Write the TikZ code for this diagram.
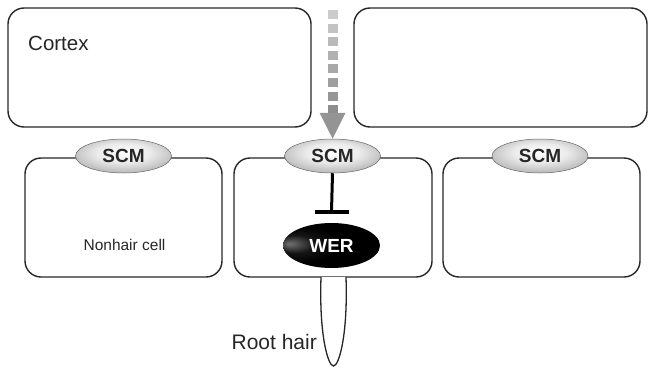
\documentclass[tikz,border=0pt]{standalone}
\usepackage{fontspec}
\setmainfont{Liberation Sans}
\usetikzlibrary{shapes.geometric,calc}
\pgfdeclareradialshading{scmshade}{\pgfpoint{0bp}{6bp}}{%
  color(0bp)=(white); color(14bp)=(white!92!black); color(30bp)=(black!30);
  color(42bp)=(black!52); color(50bp)=(black!75); color(70bp)=(black!80)}
\pgfdeclareradialshading{wershade}{\pgfpoint{-22bp}{2bp}}{%
  color(0bp)=(black!55); color(10bp)=(black!92); color(20bp)=(black); color(70bp)=(black)}
\begin{document}
\begin{tikzpicture}[x=1pt,y=-1pt,
  cell/.style={draw=black!85, line width=1.4pt, rounded corners=16pt, minimum height=119pt, inner sep=0pt},
  scm/.style={ellipse, minimum width=96pt, minimum height=34pt, inner sep=0pt, draw=black!60, line width=0.5pt,
    shading=scmshade, font=\fontsize{19}{19}\selectfont\bfseries, text=black!85},
  wer/.style={ellipse, minimum width=97pt, minimum height=45pt, inner sep=0pt, shading=wershade, text=white,
    font=\fontsize{19}{19}\selectfont\bfseries},
  lbl/.style={inner sep=0pt, text=black!85}
]
\useasboundingbox (0,0) rectangle (653,367);
% cells
\node[cell, minimum width=303pt] (ctxL) at (159.5,67.5) {};
\node[cell, minimum width=293pt] (ctxR) at (500.5,67.5) {};
\node[cell, minimum width=197pt] (cellL) at (123.5,217.5) {};
\node[cell, minimum width=198pt] (cellM) at (333,217.5) {};
\node[cell, minimum width=197pt] (cellR) at (541.5,217.5) {};
% root hair
\coordinate (hairL) at (321,277);
\coordinate (hairR) at (346,277);
\coordinate (hairT) at (333.5,366);
\draw[draw=black!85, line width=1.3pt, fill=white] (hairL) .. controls (319,335) and (328,366) .. (hairT)
  .. controls (339,366) and (348,335) .. (hairR);
% SCM
\node[scm] (scmL) at (123.5,156) {SCM};
\node[scm] (scmM) at (332.5,156) {SCM};
\node[scm] (scmR) at (540,156) {SCM};
% WER
\node[wer] (wer) at (331.5,245.5) {WER};
% signal arrow
\coordinate (sig) at (333,10);
\foreach \i in {0,...,7}{
  \pgfmathsetmacro{\c}{20+\i*3.5}
  \fill[black!\c] ($(sig)+(-5,\i*13.6)$) rectangle ++(10,9);
}
\fill[black!42] ($(scmM.north)+(-13,-26)$) -- ($(scmM.north)+(13,-26)$) -- (scmM.north) -- cycle;
% inhibition
\coordinate (bar) at ($(wer.north)+(0,-11)$);
\draw[black, line width=3pt] (scmM.south) -- (bar);
\draw[black, line width=4pt] ($(bar)+(-17,0)$) -- ($(bar)+(17,0)$);
% labels
\node[lbl, anchor=west, font=\fontsize{20.5}{20.5}\selectfont] (cortex) at (28,43) {Cortex};
\node[lbl, font=\fontsize{15.5}{15.5}\selectfont] (nonhair) at (124.5,245) {Nonhair cell};
\node[lbl, anchor=east, font=\fontsize{21}{21}\selectfont] (roothair) at (317,342) {Root hair};
\end{tikzpicture}
\end{document}
